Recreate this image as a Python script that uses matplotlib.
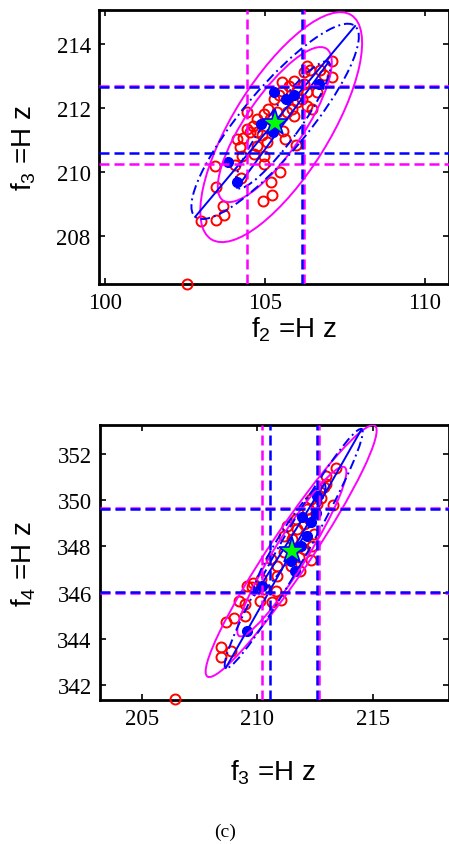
import numpy as np
import matplotlib
matplotlib.use('Agg')
import matplotlib.pyplot as plt
from matplotlib.patches import Ellipse

# --- DATA: panel 1 (f2 vs f3) ---
p1_red_x = [102.55, 103.00, 103.46, 103.70, 103.68, 103.47, 103.44, 104.06, 104.24, 104.93,
            105.21, 105.19, 105.47, 104.95, 105.97, 105.63, 104.20, 104.11, 104.29, 104.43,
            104.61, 104.74, 104.53, 104.74, 104.95, 104.90, 105.10, 104.74, 104.95, 104.64,
            105.26, 105.42, 105.52, 105.75, 105.99, 106.20, 106.15, 106.32, 106.46, 106.20,
            106.30, 106.72, 106.85, 107.08, 107.09, 106.61, 105.83, 105.68, 105.36, 105.89,
            105.57, 106.00, 105.52, 106.30, 105.16, 104.43, 104.27, 105.89, 106.41, 105.05]
p1_red_y = [206.50, 208.48, 208.51, 208.66, 208.93, 209.52, 210.20, 210.23, 209.81, 209.10,
            209.28, 209.68, 210.01, 210.25, 210.85, 211.03, 210.79, 211.03, 211.05, 211.86,
            211.45, 211.24, 211.24, 211.66, 211.81, 211.14, 211.97, 210.82, 210.51, 210.56,
            212.28, 212.39, 212.54, 212.70, 212.57, 212.75, 212.28, 212.05, 211.97, 213.11,
            213.32, 213.17, 213.03, 213.48, 212.98, 212.49, 211.97, 211.86, 211.86, 211.76,
            211.29, 212.18, 212.80, 212.49, 211.66, 211.34, 210.51, 212.85, 213.17, 210.93]
p1_blue_x = [105.26, 105.66, 105.91, 106.67, 104.86, 105.24, 103.85, 104.11]
p1_blue_y = [212.51, 212.28, 212.41, 212.75, 211.50, 211.24, 210.32, 209.70]
p1_star = (105.31, 211.53)
p1_hline_blue = [212.65, 210.60]
p1_hline_mag = [212.70, 210.25]
p1_vline_blue = [106.16]
p1_vline_mag = [104.44, 106.21]
# ellipses: centre x, centre y, semi-major, semi-minor, angle (deg)
p1_ell_blue = [(105.31, 211.58, 3.89, 1.02, 50.0), (105.55, 211.47, 2.43, 0.50, 53.9)]
p1_ell_mag = [(105.50, 211.40, 4.13, 1.50, 58.0), (105.30, 211.48, 2.87, 0.90, 55.6)]
p1_xticks = [100, 105, 110]
p1_yticks = [208, 210, 212, 214]

# --- DATA: panel 2 (f3 vs f4) ---
p2_red_x = [206.43, 208.42, 208.85, 208.45, 208.64, 209.00, 209.46, 209.47, 209.21, 209.57,
            209.83, 210.12, 210.66, 211.05, 210.80, 210.58, 211.16, 211.45, 211.84, 212.32,
            211.16, 211.52, 211.74, 212.03, 212.24, 212.32, 212.60, 212.75, 212.89, 212.97,
            213.40, 213.30, 212.97, 212.39, 212.03, 210.87, 210.15, 210.30, 211.31, 212.17,
            211.81, 209.79, 212.46, 210.87, 211.67]
p2_red_y = [341.39, 343.63, 343.46, 343.20, 344.74, 344.90, 345.00, 345.49, 345.65, 346.30,
            346.44, 345.65, 345.61, 345.69, 346.08, 347.45, 347.74, 347.17, 346.95, 347.43,
            348.46, 348.32, 348.75, 348.97, 349.19, 350.05, 349.84, 350.12, 350.56, 351.06,
            351.38, 349.79, 350.70, 348.03, 347.89, 347.17, 346.59, 346.16, 348.90, 349.62,
            347.53, 346.23, 348.54, 346.73, 349.19]
p2_blue_x = [209.57, 210.22, 211.62, 211.45, 211.96, 212.32, 212.60, 212.17, 211.88, 212.53]
p2_blue_y = [344.35, 346.30, 346.95, 347.38, 349.26, 349.04, 350.20, 348.46, 348.03, 349.47]
p2_star = (211.52, 347.82)
p2_hline_blue = [349.62, 346.05]
p2_hline_mag = [349.66, 346.00]
p2_vline_blue = [210.56, 212.60]
p2_vline_mag = [210.22, 212.68]
p2_ell_blue = [(211.58, 347.91, 5.95, 0.60, 60.4), (211.40, 348.30, 2.85, 0.45, 58.0)]
p2_ell_mag = [(211.47, 347.80, 6.53, 0.90, 56.3), (211.50, 347.78, 4.31, 0.70, 58.0)]
p2_xticks = [205, 210, 215]
p2_yticks = [342, 344, 346, 348, 350, 352]

MAG = '#ff00ff'
BLUE = '#0000ff'
RED = '#ff0000'

plt.rcParams['font.family'] = ['Liberation Serif', 'DejaVu Serif']
plt.rcParams['mathtext.fontset'] = 'custom'
plt.rcParams['mathtext.rm'] = 'Liberation Sans'


def draw_panel(ax, red_x, red_y, blue_x, blue_y, star, hb, hm, vb, vm, ell_b, ell_m,
               xlim, ylim, xticks, yticks):
    ax.plot(red_x, red_y, 'o', mfc='none', mec=RED, ms=7.2, mew=1.4, clip_on=False, zorder=3)
    ax.plot(blue_x, blue_y, 'o', mfc=BLUE, mec=BLUE, ms=7, zorder=3)
    for cx, cy, a, b, ang in ell_m:
        ax.add_patch(Ellipse((cx, cy), 2 * a, 2 * b, angle=ang, fill=False,
                             ec=MAG, lw=1.4, zorder=4))
    for cx, cy, a, b, ang in ell_b:
        ax.add_patch(Ellipse((cx, cy), 2 * a, 2 * b, angle=ang, fill=False,
                             ec=BLUE, lw=1.4, ls=(0, (5, 2, 1, 2)), zorder=4))
        t = np.deg2rad(ang)
        ax.plot([cx - a * np.cos(t), cx + a * np.cos(t)],
                [cy - a * np.sin(t), cy + a * np.sin(t)], color=BLUE, lw=1.4, zorder=4)
    for y in hm:
        ax.axhline(y, color=MAG, lw=1.8, ls=(0, (4, 2)), zorder=5)
    for y in hb:
        ax.axhline(y, color=BLUE, lw=1.8, ls=(0, (4, 2)), zorder=5)
    for x in vm:
        ax.axvline(x, color=MAG, lw=1.8, ls=(0, (4, 2)), zorder=5)
    for x in vb:
        ax.axvline(x, color=BLUE, lw=1.8, ls=(0, (4, 2)), zorder=5)
    ax.plot([star[0]], [star[1]], marker='*', ms=20, mfc='#00ff00', mec=BLUE, mew=1.2, zorder=6)
    ax.set_xlim(*xlim)
    ax.set_ylim(*ylim)
    ax.set_xticks(xticks)
    ax.set_yticks(yticks)
    ax.tick_params(direction='in', length=4, width=1.2, labelsize=16.5, pad=6,
                   top=True, right=True)
    for s in ax.spines.values():
        s.set_linewidth(2)


fig = plt.figure(figsize=(4.49, 8.45), dpi=100)
ax1 = fig.add_axes([0.2205, 0.6627, 0.7795, 0.3243])
ax2 = fig.add_axes([0.2227, 0.1704, 0.7773, 0.3254])

draw_panel(ax1, p1_red_x, p1_red_y, p1_blue_x, p1_blue_y, p1_star,
           p1_hline_blue, p1_hline_mag, p1_vline_blue, p1_vline_mag,
           p1_ell_blue, p1_ell_mag, (99.8, 110.75), (206.5, 215.06), p1_xticks, p1_yticks)
draw_panel(ax2, p2_red_x, p2_red_y, p2_blue_x, p2_blue_y, p2_star,
           p2_hline_blue, p2_hline_mag, p2_vline_blue, p2_vline_mag,
           p2_ell_blue, p2_ell_mag, (203.2, 218.3), (341.35, 353.26), p2_xticks, p2_yticks)

lab = dict(fontsize=20, family=['Liberation Sans', 'DejaVu Sans'])
fig.text(294 / 449, 1 - 330 / 845, r'f$_{\rm 2}$ =H z', ha='center', va='center', **lab)
fig.text(24 / 449, 1 - 148 / 845, r'f$_{\rm 3}$ =H z', ha='center', va='center', rotation=90, **lab)
fig.text(273 / 449, 1 - 773 / 845, r'f$_{\rm 3}$ =H z', ha='center', va='center', **lab)
fig.text(24 / 449, 1 - 564 / 845, r'f$_{\rm 4}$ =H z', ha='center', va='center', rotation=90, **lab)
fig.text(225 / 449, 1 - 832 / 845, '(c)', ha='center', va='center', fontsize=14)

fig.savefig('out.png', dpi=100)
